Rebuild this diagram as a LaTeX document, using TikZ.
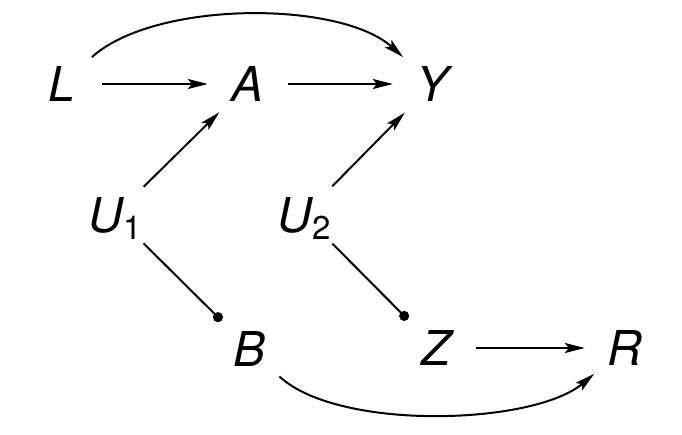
\documentclass[tikz,border=0pt]{standalone}
\usepackage{fontspec}
\setmainfont{TeX Gyre Heros}
\usetikzlibrary{arrows.meta}

\begin{document}
\begin{tikzpicture}[x=1pt,y=-1pt,
  var/.style={circle, inner sep=0pt, minimum size=80pt, text depth=0pt,
    font=\fontsize{48}{56}\selectfont\itshape},
  arr/.style={line width=2pt, -{Stealth[length=20pt,width=10pt,inset=4pt]}},
  dotted end/.style={line width=2pt, -{Circle[length=10pt]}}]
\useasboundingbox (0,0) rectangle (682,434);
\node[var] (L) at (62,84) {L};
\node[var] (A) at (248,84) {A};
\node[var] (Y) at (433,84) {Y};
\node[var] (U1) at (115,215) {U\raisebox{-7pt}{\fontsize{33}{36}\selectfont\upshape 1}};
\node[var] (U2) at (304,215) {U\raisebox{-7pt}{\fontsize{33}{36}\selectfont\upshape 2}};
\node[var] (B) at (250,349) {B};
\node[var] (Z) at (436,348) {Z};
\node[var] (R) at (625,348) {R};
% arrows
\draw[arr] (L) -- (A);
\draw[arr] (A) -- (Y);
\draw[arr] (L) to[out=42,in=138,looseness=0.7] (Y);
\draw[arr] (U1) -- (A);
\draw[arr] (U2) -- (Y);
\draw[dotted end] (U1) -- (B);
\draw[dotted end] (U2) -- (Z);
\draw[arr] (Z) -- (R);
\draw[arr] (B) to[out=-43,in=-140,looseness=0.65] (R);
\end{tikzpicture}
\end{document}
